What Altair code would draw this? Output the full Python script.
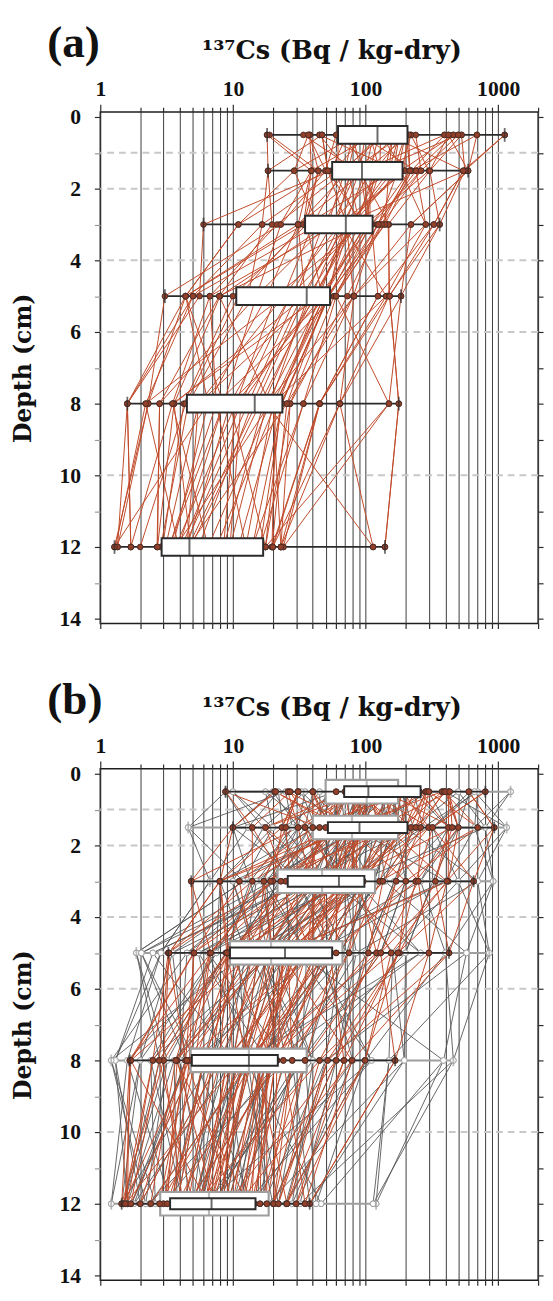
import altair as alt
import pandas as pd

DEPTHS = [0.5, 1.5, 3, 5, 8, 12]
LAYER_BOUNDARIES = [1, 2, 4, 6, 10]
X_TICKS = [1, 2, 3, 4, 5, 6, 7, 8, 9, 10, 20, 30, 40, 50, 60, 70, 80, 90,
           100, 200, 300, 400, 500, 600, 700, 800, 900, 1000, 2000]
Y_TICKS = list(range(15))
X_TITLE = "¹³⁷Cs (Bq / kg-dry)"
Y_TITLE = "Depth (cm)"

# ---- (a) measured values per depth (sorted, Bq/kg-dry) ----
A_05 = [18.1, 18.9, 34, 37, 38, 45, 45, 47, 47, 60, 62, 66, 72, 80, 85, 92, 100, 108, 115, 120,
        126, 130, 140, 150, 160, 170, 180, 190, 200, 205, 212, 220, 239, 394, 422, 459, 500, 529, 691, 1119]
A_15 = [18.4, 29, 39, 39, 44, 44, 50, 50, 52, 55, 58, 62, 66, 70, 74, 78, 82, 86, 90, 92,
        96, 100, 108, 118, 128, 140, 150, 162, 175, 185, 196, 215, 222, 240, 262, 300, 305, 545, 560, 593]
A_3 = [6.0, 11, 16.6, 19.7, 21.5, 22.7, 23, 31, 31, 34, 36, 40, 44, 48, 52, 56, 60, 64, 67, 70,
       72, 76, 80, 85, 90, 95, 100, 104, 108, 111, 121, 125, 132, 140, 148, 150, 220, 284, 327, 362]
A_5 = [3.07, 4.4, 4.4, 5.0, 5.6, 6.7, 6.7, 7.9, 8.0, 10, 11, 13, 15, 18, 21, 24, 27, 30, 33, 35,
       37, 39, 41, 43, 45, 47, 49, 51, 52, 53, 58, 60, 73, 81, 82, 124, 143, 150, 152, 185]
A_8 = [1.6, 1.6, 2.2, 2.3, 2.3, 2.8, 3.5, 3.6, 4.26, 4.4, 4.6, 5.5, 6.5, 7.5, 8.5, 9.5, 10.5, 11.5, 13, 14,
       15, 16, 17, 18, 19, 20, 21, 22, 23, 23.4, 25.5, 27, 27, 34, 45, 45, 64, 64, 150, 178]
A_12 = [1.28, 1.3, 1.35, 1.35, 1.7, 1.7, 2.0, 2.68, 2.7, 2.85, 2.95, 3.1, 3.3, 3.5, 3.7, 3.9, 4.1, 4.3, 4.5, 4.6,
        4.8, 5.5, 6.5, 7.5, 8.5, 9.5, 11, 12.5, 14, 16, 17.6, 17.6, 19.7, 19.7, 20, 23, 23, 24, 114, 140]

# ---- (b) red series ----
BR_05 = [8.8, 20.6, 21, 26, 27, 31, 31, 40, 40, 60, 70, 74, 78, 82, 86, 90, 94, 98, 101, 103,
         108, 115, 125, 140, 155, 170, 190, 210, 235, 255, 284, 290, 300, 377, 390, 400, 422, 430, 600, 800]
BR_15 = [10, 14, 17.6, 23.4, 25, 31, 35, 40, 45, 50, 54, 58, 62, 66, 70, 74, 78, 82, 86, 88,
         93, 100, 110, 120, 132, 145, 160, 175, 190, 200, 220, 239, 260, 300, 320, 422, 450, 500, 700, 933]
BR_3 = [4.85, 7.95, 8, 11.2, 14, 17.1, 19.2, 20, 23, 25, 27, 30, 34, 38, 42, 46, 50, 54, 58, 61,
        65, 68, 71, 74, 77, 80, 84, 88, 92, 96, 128, 135, 170, 201, 239, 250, 336, 410, 420, 653]
BR_5 = [3.26, 3.3, 5.05, 5.1, 6.7, 6.8, 8.9, 9.0, 9.1, 9.3, 10, 12, 14, 15.5, 17, 18.5, 20, 21.5, 23, 24,
        26, 28, 30, 33, 36, 39, 42, 46, 50, 54, 60, 75, 105, 121, 130, 156, 175, 180, 300, 426]
BR_8 = [1.67, 1.7, 2.49, 2.78, 3.0, 3.7, 3.8, 4.4, 4.5, 4.7, 5.2, 6, 7, 8, 9, 10, 11, 12, 12.5, 13,
        13.5, 14, 15, 16, 17, 18, 19, 20, 21, 21.5, 24, 28, 35, 45, 51.7, 60, 68.7, 79, 99, 167]
BR_12 = [1.45, 1.5, 1.55, 1.6, 1.7, 2.0, 2.4, 2.8, 3.0, 3.2, 3.5, 3.8, 4.2, 4.6, 5.0, 5.4, 5.8, 6.2, 6.5, 6.8,
         7.2, 7.8, 8.5, 9.2, 10, 11, 12, 13, 13.8, 14.5, 16, 18, 20.3, 20.3, 22, 25.5, 25.5, 30, 35, 37.9]

# ---- (b) grey series ----
BG_05 = [8.8, 10, 17.6, 20, 22, 25, 32.8, 35, 40, 45, 52, 56, 60, 65, 70, 75, 80, 86, 92, 98,
         106, 112, 118, 125, 132, 140, 148, 156, 164, 172, 185, 200, 230, 300, 400, 500, 610, 664, 700, 1240]
BG_15 = [4.6, 10, 13, 17, 20, 24, 28, 31, 35, 38, 42, 46, 50, 54, 58, 62, 66, 70, 74, 77,
         82, 90, 98, 106, 115, 125, 135, 148, 160, 172, 185, 200, 230, 270, 320, 420, 500, 664, 800, 1158]
BG_3 = [6.7, 8, 10, 12, 13.5, 15, 16.5, 18, 19.5, 21, 22.5, 25, 28, 31, 34, 37, 40, 42, 44, 46,
        49, 55, 62, 70, 78, 86, 94, 102, 110, 116, 125, 140, 165, 200, 260, 320, 400, 500, 700, 917]
BG_5 = [1.87, 2.04, 2.49, 2.86, 3.5, 4.5, 5.5, 6.5, 7.5, 8.8, 10, 11, 12.5, 13.5, 14.5, 15.5, 16.5, 17.5, 18.5, 19,
        20, 23, 27, 31, 36, 41, 47, 53, 59, 65, 72, 85, 100, 130, 160, 200, 260, 400, 576, 857]
BG_8 = [1.21, 1.3, 1.6, 2.0, 2.4, 2.8, 3.2, 3.6, 4.0, 4.4, 5.2, 6, 7, 8, 9, 10, 11, 12, 12.5, 13,
        14, 16, 18, 20, 22, 25, 28, 31, 33, 35, 40, 50, 60, 80, 100, 111, 150, 196, 387, 459]
BG_12 = [1.21, 1.45, 1.5, 1.6, 1.72, 1.8, 2.0, 2.2, 2.35, 2.6, 3.0, 3.4, 3.8, 4.2, 4.6, 5.0, 5.4, 5.8, 6.2, 6.4,
         7, 8, 9, 10, 11, 12.5, 14, 15.5, 17, 18.3, 20, 22, 25, 28, 32, 38, 42.4, 46.2, 114, 120]

# which sorted value each sampling site (profile) takes at a depth
LINK_A = [3, 0, 8, 12, 1, 5, 14, 10, 2, 18, 7, 20, 11, 4, 16, 24, 9, 13, 22, 6,
          27, 15, 19, 30, 17, 25, 21, 33, 28, 23, 36, 26, 31, 35, 29, 38, 32, 34, 39, 37]
LINK_B = [6, 2, 0, 9, 4, 14, 1, 11, 17, 3, 8, 13, 22, 5, 10, 25, 7, 19, 12, 28,
          15, 33, 16, 21, 24, 18, 30, 20, 27, 37, 23, 26, 35, 29, 31, 32, 34, 39, 38, 36]
LINK_C = [1, 5, 3, 0, 10, 8, 12, 2, 15, 7, 20, 4, 18, 9, 24, 14, 6, 27, 11, 22,
          16, 30, 13, 19, 25, 35, 17, 28, 21, 38, 23, 33, 26, 37, 29, 31, 32, 36, 39, 34]
LINK_D = [2, 0, 7, 4, 9, 13, 3, 11, 16, 1, 18, 6, 21, 10, 26, 8, 12, 29, 15, 20,
          5, 33, 17, 24, 14, 37, 19, 31, 23, 35, 22, 27, 25, 36, 28, 30, 32, 34, 39, 38]
LINK_E = [0, 3, 5, 1, 8, 12, 2, 10, 15, 4, 19, 6, 22, 9, 25, 7, 14, 28, 11, 24,
          13, 30, 18, 27, 16, 36, 20, 33, 17, 34, 21, 26, 23, 35, 29, 31, 32, 37, 38, 39]
LINK_F = [4, 0, 7, 2, 10, 13, 1, 9, 18, 3, 21, 5, 24, 6, 27, 8, 15, 30, 11, 22,
          12, 32, 17, 26, 14, 38, 19, 29, 16, 33, 20, 23, 25, 34, 28, 31, 35, 36, 37, 39]
# further sites of panel (a) whose values coincide with already listed ones
A_EXTRA_SITES = [1, 3, 5, 8, 10, 12, 14, 17, 19, 21, 23, 25, 27, 29, 31, 33, 35, 37, 39, 6, 15, 24, 34, 38]

# box-plot statistics (min, Q1, median, Q3, max per depth)
A_MIN = [18.1, 18.4, 6.0, 3.07, 1.6, 1.28]
A_Q1 = [62, 56, 35, 10.6, 4.5, 2.9]
A_MED = [123, 94, 71, 36, 14.6, 4.7]
A_Q3 = [207, 190, 113, 54, 23.6, 16.9]
A_MAX = [1119, 593, 362, 185, 178, 140]

BR_MIN = [8.8, 10, 4.85, 3.26, 1.67, 1.45]
BR_Q1 = [69, 52, 25.9, 9.5, 4.9, 3.36]
BR_MED = [105, 90, 63, 24.7, 13.2, 6.9]
BR_Q3 = [260, 207, 98, 56, 21.8, 14.8]
BR_MAX = [800, 933, 653, 426, 167, 37.9]

BG_MIN = [8.8, 4.6, 6.7, 1.87, 1.21, 1.21]
BG_Q1 = [50, 40, 21.7, 9.5, 4.8, 2.83]
BG_MED = [102, 79, 47, 19.4, 13.2, 6.6]
BG_Q3 = [176, 176, 118, 67, 36, 18.6]
BG_MAX = [1240, 1158, 917, 857, 459, 120]

RED_LINE = "#c04a2a"
RED_DOT = "#93402b"
DOT_EDGE = "#3d2823"
DARK = "#2b2b2b"
GREY_LINE = "#555555"
GREY_BOX = "#9e9e9e"
SERIF = "Liberation Serif"
TITLE_FONT = "DejaVu Serif"


def profiles(cols, links, tag, sites=None):
    rows = []
    if sites is None:
        sites = range(len(links[0]))
    for i in sites:
        for depth, col, link in zip(DEPTHS, cols, links):
            rows.append({"profile": f"{tag}{i}", "depth": depth, "value": col[link[i]]})
    return pd.DataFrame(rows)


def stats(lo, q1, med, q3, hi):
    return pd.DataFrame({"depth": DEPTHS, "lo": lo, "q1": q1, "med": med, "q3": q3, "hi": hi})


X_SCALE = alt.Scale(type="log", domain=[1, 2000], nice=False)
Y_SCALE = alt.Scale(domain=[0, 14], reverse=True, nice=False, zero=False)
MAJOR = "indexof([1, 10, 100, 1000], datum.value) >= 0"

TOP_AXIS = alt.Axis(
    orient="top", values=X_TICKS, labelExpr=f"{MAJOR} ? datum.value + '' : ''",
    labelOverlap=False, labelFlush=False, grid=True, gridColor="#3a3a3a", gridWidth=1,
    domain=False, tickColor=DARK, tickWidth=1.2,
    tickSize={"condition": {"test": MAJOR, "value": 8}, "value": 5},
    labelFont=SERIF, labelFontSize=22, labelFontWeight="bold", labelColor="#111",
    labelPadding=4, title="")
BOTTOM_AXIS = alt.Axis(
    orient="bottom", values=X_TICKS, labels=False, grid=False, domain=False,
    tickColor=DARK, tickWidth=1.2, tickSize=5, title="")
LEFT_AXIS = alt.Axis(
    orient="left", values=Y_TICKS, labelExpr="datum.value % 2 == 0 ? datum.value + '' : ''",
    labelOverlap=False, grid=False, domain=False, tickWidth=1.2,
    tickColor={"condition": {"test": "datum.value % 2 == 0", "value": DARK}, "value": "#9a9a9a"},
    tickSize=6, labelFont=SERIF, labelFontSize=22, labelFontWeight="bold", labelColor="#111",
    labelPadding=14, title=Y_TITLE, titleFont=TITLE_FONT, titleFontSize=24,
    titleFontWeight="bold", titleColor="#111", titlePadding=24)
RIGHT_AXIS = alt.Axis(
    orient="right", values=Y_TICKS, labels=False, grid=False, domain=False,
    tickColor=DARK, tickWidth=1.2, tickSize=5, title="")


def xq(field, axis=None):
    return alt.X(f"{field}:Q", scale=X_SCALE, axis=axis)


def yq(field, axis=None):
    return alt.Y(f"{field}:Q", scale=Y_SCALE, axis=axis)


def dashed_layer():
    return alt.Chart(pd.DataFrame({"b": LAYER_BOUNDARIES})).mark_rule(
        color="#c8c8c8", strokeWidth=2, strokeDash=[7, 5]).encode(y=yq("b"))


def line_layer(df, color, width, axes=False):
    return alt.Chart(df).mark_line(color=color, strokeWidth=width).encode(
        x=xq("value", TOP_AXIS if axes else None),
        y=yq("depth", LEFT_AXIS if axes else None),
        detail="profile:N", order="depth:Q")


def box_layers(df, st, style, axes=False):
    c = style["color"]
    layers = [
        alt.Chart(st).mark_rule(color=c, strokeWidth=style["whisker"]).encode(
            x=xq("lo", BOTTOM_AXIS if axes else None), x2="hi:Q",
            y=yq("depth", RIGHT_AXIS if axes else None)),
    ]
    if style["open"]:
        pts = alt.Chart(df).mark_point(shape="circle", filled=True, fill="white",
                                       stroke=c, strokeWidth=1, size=34, opacity=1)
    else:
        pts = alt.Chart(df).mark_point(shape="circle", filled=True, fill=RED_DOT,
                                       stroke=DOT_EDGE, strokeWidth=0.8, size=34, opacity=1)
    layers.append(pts.encode(x=xq("value"), y=yq("depth")))
    layers.append(alt.Chart(st).transform_fold(["lo", "hi"], as_=["end", "v"]).mark_tick(
        orient="vertical", size=style["cap"], thickness=1.8, color=c).encode(
        x=xq("v"), y=yq("depth")))
    layers.append(alt.Chart(st).mark_bar(
        orient="horizontal", size=style["box"], fill="white", stroke=c,
        strokeWidth=style["edge"]).encode(x=xq("q1"), x2="q3:Q", y=yq("depth")))
    layers.append(alt.Chart(st).mark_tick(
        orient="vertical", size=style["box"], thickness=style["edge"], color=c).encode(
        x=xq("med"), y=yq("depth")))
    return layers


def text_layers(panel_label):
    one = pd.DataFrame({"t": [panel_label], "title": [X_TITLE]})
    label = alt.Chart(one).mark_text(
        font=SERIF, fontSize=46, fontWeight="bold", align="left", baseline="alphabetic",
        color="#111").encode(text="t:N", x=alt.value(-54), y=alt.value(-56))
    title = alt.Chart(one).mark_text(
        font=TITLE_FONT, fontSize=26, fontWeight="bold", align="center", baseline="alphabetic",
        color="#111").encode(text="title:N", x=alt.value(236), y=alt.value(-54))
    return [label, title]


A_COLS = [A_05, A_15, A_3, A_5, A_8, A_12]
BR_COLS = [BR_05, BR_15, BR_3, BR_5, BR_8, BR_12]
BG_COLS = [BG_05, BG_15, BG_3, BG_5, BG_8, BG_12]

a_df = pd.concat([
    profiles(A_COLS, [LINK_A, LINK_B, LINK_C, LINK_D, LINK_E, LINK_F], "a"),
    profiles(A_COLS, [LINK_D, LINK_F, LINK_B, LINK_E, LINK_A, LINK_C], "x", A_EXTRA_SITES),
], ignore_index=True)
br_df = pd.concat([
    profiles(BR_COLS, [LINK_B, LINK_A, LINK_D, LINK_C, LINK_F, LINK_E], "r"),
    profiles(BR_COLS, [LINK_E, LINK_C, LINK_F, LINK_B, LINK_D, LINK_A], "s"),
], ignore_index=True)
bg_df = pd.concat([
    profiles(BG_COLS, [LINK_C, LINK_F, LINK_A, LINK_E, LINK_B, LINK_D], "g"),
    profiles(BG_COLS, [LINK_F, LINK_D, LINK_E, LINK_A, LINK_C, LINK_B], "h"),
], ignore_index=True)

a_st = stats(A_MIN, A_Q1, A_MED, A_Q3, A_MAX)
br_st = stats(BR_MIN, BR_Q1, BR_MED, BR_Q3, BR_MAX)
bg_st = stats(BG_MIN, BG_Q1, BG_MED, BG_Q3, BG_MAX)

DARK_STYLE = {"color": DARK, "whisker": 1.8, "cap": 14, "box": 18, "edge": 2, "open": False}
RED_B_STYLE = {"color": DARK, "whisker": 1.8, "cap": 12, "box": 11, "edge": 2, "open": False}
GREY_STYLE = {"color": GREY_BOX, "whisker": 2, "cap": 12, "box": 24, "edge": 2.2, "open": True}

panel_a = alt.layer(
    dashed_layer(),
    line_layer(a_df, RED_LINE, 1.0, axes=True),
    *box_layers(a_df, a_st, DARK_STYLE, axes=True),
    *text_layers("(a)"),
).resolve_axis(x="independent", y="independent").properties(width=446, height=521)

panel_b = alt.layer(
    dashed_layer(),
    line_layer(bg_df, GREY_LINE, 0.9, axes=True),
    line_layer(br_df, RED_LINE, 1.0),
    *box_layers(bg_df, bg_st, GREY_STYLE, axes=True),
    *box_layers(br_df, br_st, RED_B_STYLE),
    *text_layers("(b)"),
).resolve_axis(x="independent", y="independent").properties(width=446, height=521)

chart = alt.vconcat(panel_a, panel_b, spacing=148, bounds="flush").properties(
    padding={"left": 3, "top": 0, "right": 0, "bottom": 0}
).configure_view(stroke="#1e1e1e", strokeWidth=1.5)

chart.save("out.html", embed_options={"renderer": "svg", "actions": False})
